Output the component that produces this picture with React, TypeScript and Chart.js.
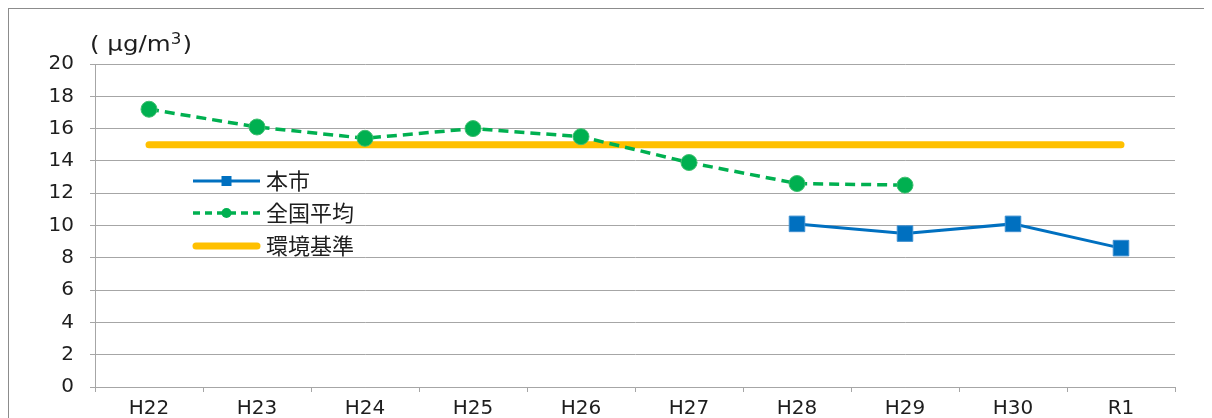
import React, { useEffect, useRef } from "react";
import { Chart, registerables } from "chart.js";

Chart.register(...registerables);

const categories = ["H22", "H23", "H24", "H25", "H26", "H27", "H28", "H29", "H30", "R1"];
const cityValues = [null, null, null, null, null, null, 10.1, 9.5, 10.1, 8.6];
const nationalValues = [17.2, 16.1, 15.4, 16.0, 15.5, 13.9, 12.6, 12.5, null, null];
const standardValues = [15, 15, 15, 15, 15, 15, 15, 15, 15, 15];
const yTicks = [0, 2, 4, 6, 8, 10, 12, 14, 16, 18, 20];
const seriesNames = ["本市", "全国平均", "環境基準"];
// unit label "( μg/m³)" : main part, superscript, closing paren
const unitParts = ["( μg/m", "3", ")"];

const BLUE = "#0070C0";
const GREEN = "#00B050";
const YELLOW = "#FFC000";
const GRID = "#a6a6a6";
const TEXT = "#1e1e1e";
const FONT = "'DejaVu Sans', 'Noto Sans CJK JP', sans-serif";
const CJK = "'Noto Sans CJK JP', 'DejaVu Sans', sans-serif";

const overlayPlugin = {
  id: "overlay",
  afterDatasetsDraw(chart: any) {
    const ctx = chart.ctx;
    const area = chart.chartArea;
    ctx.save();
    ctx.fillStyle = TEXT;
    ctx.textBaseline = "alphabetic";
    ctx.textAlign = "left";

    // unit label, slightly stretched horizontally to mimic the original wide font
    const base = area.top - 13;
    const startX = area.left - 5;
    const targetW = 102;
    const fonts = [`22px ${FONT}`, `15px ${FONT}`, `22px ${FONT}`];
    const widths = unitParts.map((p, i) => {
      ctx.font = fonts[i];
      return ctx.measureText(p).width;
    });
    const natural = widths.reduce((a, b) => a + b, 0) + 1;
    const sx = targetW / natural;
    ctx.save();
    ctx.translate(startX, base);
    ctx.scale(sx, 1);
    let x = 0;
    unitParts.forEach((p, i) => {
      ctx.font = fonts[i];
      ctx.fillText(p, x, i === 1 ? -7 : 0);
      x += widths[i] + (i === 1 ? 1 : 0);
    });
    ctx.restore();

    const x0 = area.left + 98;
    const x1 = area.left + 165;
    const tx = area.left + 172;
    const rows = [area.top + 117, area.top + 149, area.top + 182];

    ctx.strokeStyle = BLUE;
    ctx.lineWidth = 3;
    ctx.setLineDash([]);
    ctx.beginPath();
    ctx.moveTo(x0, rows[0]);
    ctx.lineTo(x1, rows[0]);
    ctx.stroke();
    ctx.fillStyle = BLUE;
    const cx = (x0 + x1) / 2;
    ctx.fillRect(cx - 5, rows[0] - 5, 10, 10);

    ctx.strokeStyle = GREEN;
    ctx.lineWidth = 3.5;
    ctx.setLineDash([7, 5]);
    ctx.beginPath();
    ctx.moveTo(x0, rows[1]);
    ctx.lineTo(x1, rows[1]);
    ctx.stroke();
    ctx.setLineDash([]);
    ctx.fillStyle = GREEN;
    ctx.beginPath();
    ctx.arc(cx, rows[1], 5, 0, Math.PI * 2);
    ctx.fill();

    ctx.strokeStyle = YELLOW;
    ctx.lineWidth = 7;
    ctx.lineCap = "round";
    ctx.beginPath();
    ctx.moveTo(x0 + 3, rows[2]);
    ctx.lineTo(x1 - 3, rows[2]);
    ctx.stroke();

    ctx.fillStyle = TEXT;
    ctx.font = `22px ${CJK}`;
    ctx.textBaseline = "middle";
    seriesNames.forEach((n, i) => ctx.fillText(n, tx - 1, rows[i]));
    ctx.restore();
  },
};

export default function App() {
  const ref = useRef<HTMLCanvasElement>(null);
  useEffect(() => {
    if (!ref.current) return;
    const chart = new Chart(ref.current, {
      type: "line",
      data: {
        labels: categories,
        datasets: [
          {
            label: seriesNames[0],
            data: cityValues,
            borderColor: BLUE,
            backgroundColor: BLUE,
            borderWidth: 3,
            pointStyle: "rect",
            pointRadius: 11,
            pointBorderColor: "#3d8fd0",
            pointBorderWidth: 1,
            order: 1,
          },
          {
            label: seriesNames[1],
            data: nationalValues,
            borderColor: GREEN,
            backgroundColor: GREEN,
            borderWidth: 3.5,
            borderDash: [10, 6],
            pointStyle: "circle",
            pointRadius: 8,
            pointBorderColor: "#3fbf6f",
            pointBorderWidth: 1,
            order: 2,
          },
          {
            label: seriesNames[2],
            data: standardValues,
            borderColor: YELLOW,
            backgroundColor: YELLOW,
            borderWidth: 7,
            borderCapStyle: "round",
            pointRadius: 0,
            order: 3,
          },
        ],
      },
      options: {
        animation: false,
        responsive: true,
        maintainAspectRatio: false,
        layout: { padding: { top: 55, right: 37, left: 0, bottom: 0 } },
        plugins: { legend: { display: false }, tooltip: { enabled: false } },
        scales: {
          x: {
            offset: true,
            grid: {
              offset: true,
              drawOnChartArea: false,
              drawTicks: true,
              tickLength: 5,
              color: GRID,
            },
            border: { color: GRID, width: 1 },
            ticks: { font: { family: FONT, size: 20 }, color: TEXT, padding: 5, maxRotation: 0 },
            afterFit: (s: any) => {
              s.height = 31;
            },
          },
          y: {
            min: 0,
            max: 20,
            afterBuildTicks: (s: any) => {
              s.ticks = yTicks.map((v) => ({ value: v }));
            },
            grid: { color: GRID, tickLength: 5, drawTicks: true },
            border: { color: GRID, width: 1 },
            ticks: { font: { family: FONT, size: 20 }, color: TEXT, padding: 16 },
            afterFit: (s: any) => {
              s.width = 86;
            },
          },
        },
      },
      plugins: [overlayPlugin],
    });
    return () => chart.destroy();
  }, []);

  return (
    <div
      style={{
        width: 1204,
        height: 410,
        boxSizing: "border-box",
        borderTop: "1px solid #8c8c8c",
        borderLeft: "1px solid #8c8c8c",
      }}
    >
      <div style={{ position: "relative", width: 1203, height: 409 }}>
        <canvas ref={ref} />
      </div>
    </div>
  );
}
